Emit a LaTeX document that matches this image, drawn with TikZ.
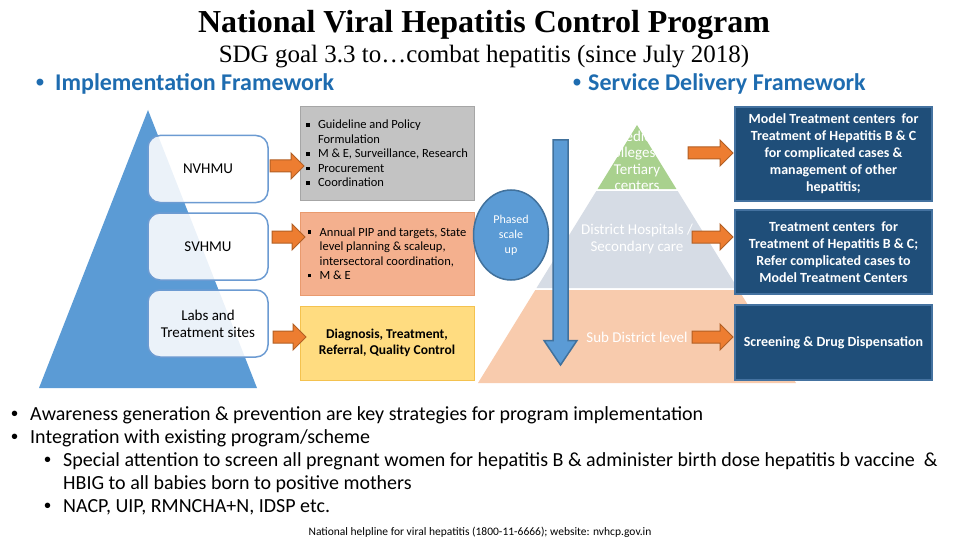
\documentclass[tikz,border=0pt]{standalone}
\usepackage{fontspec}
\setmainfont{Carlito}
\newfontfamily\titlefont{Liberation Serif}
\newfontfamily\bulfont{Liberation Sans}
\usetikzlibrary{shapes.geometric}
\definecolor{hdr}{HTML}{1E6CB0}
\definecolor{lpyr}{HTML}{5B9BD5}
\definecolor{lboxc}{HTML}{6C9BD2}
\definecolor{grayf}{HTML}{C3C3C3}
\definecolor{grayd}{HTML}{A6A6A6}
\definecolor{salf}{HTML}{F4B08E}
\definecolor{sald}{HTML}{E99A6E}
\definecolor{yelf}{HTML}{FFDC80}
\definecolor{yeld}{HTML}{F4C24F}
\definecolor{oarr}{HTML}{ED7D31}
\definecolor{oarrd}{HTML}{B25F24}
\definecolor{dboxf}{HTML}{1F4E79}
\definecolor{dboxd}{HTML}{4472A0}
\definecolor{pgreen}{HTML}{A9D18E}
\definecolor{pmid}{HTML}{D6DCE5}
\definecolor{ppeach}{HTML}{F8CBAD}
\definecolor{ellf}{HTML}{5B9BD5}
\definecolor{elld}{HTML}{41719C}
\newcommand\sqb{\makebox[12pt][l]{\rule[2.2pt]{3.5pt}{3.5pt}}}
\newcommand\indt{\hspace*{12pt}}
\newcommand\bul{{\bulfont\textbullet}}
% block arrow pointing right: tail x, tip x, centre y
\newcommand\barrow[3]{\draw[oarrowst] (#1,#3-6) -- (#2-13,#3-6) -- (#2-13,#3-13) -- (#2,#3) -- (#2-13,#3+13) -- (#2-13,#3+6) -- (#1,#3+6) -- cycle;}
\tikzset{
  lbox/.style={draw=lboxc, line width=1.5pt, rounded corners=12pt, fill=white, fill opacity=0.88, text opacity=1,
    minimum width=120pt, minimum height=67pt, font=\fontsize{15}{17}\selectfont, align=center},
  oarrowst/.style={draw=oarrd, fill=oarr, line width=1pt, line join=miter},
  rbox/.style={line width=1pt, minimum width=174pt, align=left, font=\fontsize{12.5}{14.5}\selectfont, inner sep=0pt},
  dbox/.style={draw=dboxd, fill=dboxf, line width=1.5pt, text=white, minimum width=197pt, align=center,
    font=\bfseries\fontsize{14}{17}\selectfont, inner sep=0pt},
  ptext/.style={text=white, font=\fontsize{15}{16.5}\selectfont, align=center},
  btext/.style={anchor=base west, font=\fontsize{20}{24}\selectfont, inner sep=0pt},
}
\begin{document}
\begin{tikzpicture}[x=1pt,y=-1pt]
\useasboundingbox (0,0) rectangle (960,540);

% titles
\node[font=\titlefont\bfseries\fontsize{32}{34}\selectfont, anchor=base, inner sep=0pt] (title) at (484,33) {National Viral Hepatitis Control Program};
\node[font=\titlefont\fontsize{25}{27}\selectfont, anchor=base, inner sep=0pt] (subtitle) at (484,63) {SDG goal 3.3 to…combat hepatitis (since July 2018)};
\node[anchor=base west, inner sep=0pt, text=hdr, font=\bfseries\fontsize{24}{28}\selectfont] (h1) at (55,91) {\llap{\bul\hspace{11pt}}Implementation Framework};
\node[anchor=base west, inner sep=0pt, text=hdr, font=\bfseries\fontsize{24}{28}\selectfont] (h2) at (588,91) {\llap{\bul\hspace{7pt}}Service Delivery Framework};

% left pyramid
\fill[lpyr] (148,110) -- (257,388) -- (39,388) -- cycle;

% left boxes
\node[lbox] (nv) at (208,169) {NVHMU};
\node[lbox] (sv) at (208,246.5) {SVHMU};
\node[lbox] (labs) at (208,323.5) {Labs and\\Treatment sites};

% middle boxes
\node[rbox, draw=grayd, fill=grayf, minimum height=93pt] (gbox) at (387,153.5)
  {\sqb Guideline and Policy\\ \indt Formulation\\ \sqb M \& E, Surveillance, Research\\ \sqb Procurement\\ \sqb Coordination};
\node[rbox, draw=sald, fill=salf, minimum height=83pt] (sbox) at (387,253.5)
  {\sqb Annual PIP and targets, State\\ \indt level planning \& scaleup,\\ \indt intersectoral coordination,\\ \sqb M \& E};
\node[rbox, draw=yeld, fill=yelf, minimum height=74pt, align=center, font=\bfseries\fontsize{13.5}{16}\selectfont] (ybox) at (387,343)
  {Diagnosis, Treatment,\\Referral, Quality Control};

% left arrows
\barrow{270}{304}{166}
\barrow{272}{305}{237}
\barrow{273}{306}{337}

% right pyramid
\fill[pgreen] (637,125) -- (676.4,189) -- (597.6,189) -- cycle;
\fill[pmid] (596.3,191) -- (677.7,191) -- (737.5,288) -- (536.5,288) -- cycle;
\fill[ppeach] (535.3,290) -- (738.7,290) -- (796,383) -- (478,383) -- cycle;
\node[ptext] (tert) at (637,161) {Medical\\Colleges \&\\Tertiary\\centers};
\node[ptext] (dist) at (637,239) {District Hospitals /\\Secondary care};
\node[ptext] (subd) at (637,337) {Sub District level};

% ellipse and down arrow
\node[ellipse, draw=elld, fill=ellf, line width=1.5pt, minimum width=75pt, minimum height=90pt, inner sep=0pt,
  text=white, align=center, font=\fontsize{12}{15}\selectfont] (phase) at (511,235) {Phased\\scale\\up};
\draw[draw=elld, fill=ellf, line width=1.5pt, line join=miter] (553,140) -- (568,140) -- (568,340.5) -- (577,340.5)
  -- (560.5,365) -- (544,340.5) -- (553,340.5) -- cycle;

% right arrows
\barrow{688}{733}{153}
\barrow{692}{733}{237}
\barrow{692}{733}{337}

% dark boxes
\node[dbox, minimum height=94pt] (d1) at (833.5,154) {Model Treatment centers\ \ for\\Treatment of Hepatitis B \& C\\for complicated cases \&\\management of other\\hepatitis;};
\node[dbox, minimum height=84pt] (d2) at (833.5,252) {Treatment centers\ \ for\\Treatment of Hepatitis B \& C;\\Refer complicated cases to\\Model Treatment Centers};
\node[dbox, minimum height=75pt] (d3) at (833.5,342.5) {Screening \& Drug Dispensation};

% bottom bullets
\node[btext] (b1) at (30,420) {\llap{\bul\hspace{12pt}}Awareness generation \& prevention are key strategies for program implementation};
\node[btext] (b2) at (30,443) {\llap{\bul\hspace{12pt}}Integration with existing program/scheme};
\node[btext] (b3) at (63,466) {\llap{\bul\hspace{12pt}}Special attention to screen all pregnant women for hepatitis B \& administer birth dose hepatitis b vaccine\ \ \&};
\node[btext] (b4) at (63,489) {HBIG to all babies born to positive mothers};
\node[btext] (b5) at (63,512) {\llap{\bul\hspace{12pt}}NACP, UIP, RMNCHA+N, IDSP etc.};
\node[anchor=base, inner sep=0pt, font=\fontsize{11.5}{13}\selectfont] (help) at (480,535) {National helpline for viral hepatitis (1800-11-6666); website: nvhcp.gov.in};
\end{tikzpicture}
\end{document}
